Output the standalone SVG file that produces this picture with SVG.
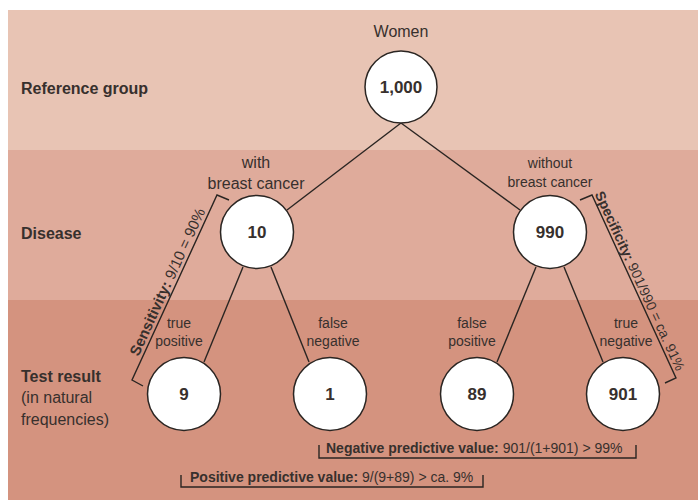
<svg xmlns="http://www.w3.org/2000/svg" width="698" height="504" viewBox="0 0 698 504">
<style>
text{font-family:"Liberation Sans",Arial,sans-serif;fill:#37302d}
.b{font-weight:bold}
.lbl{font-size:16px}
.sm{font-size:14px}
.rot{font-size:15px;text-anchor:middle}
.rot2{font-size:14px;text-anchor:middle}
.num{font-size:17px;font-weight:bold;text-anchor:middle}
.mid{text-anchor:middle}
circle{fill:#fff;stroke:#2a2522;stroke-width:1.5}
.ln{stroke:#2a2522;stroke-width:1.4;fill:none}
</style>
<rect x="0" y="0" width="698" height="504" fill="#fff"/>
<g id="bands">
<rect x="8" y="10" width="690" height="140" fill="#e8c4b4"/>
<rect x="8" y="150" width="690" height="150" fill="#dfab9b"/>
<rect x="8" y="300" width="690" height="200" fill="#d4937f"/>
</g>
<g id="row-labels">
<text class="lbl b" x="21" y="94">Reference group</text>
<text class="lbl b" x="21" y="239">Disease</text>
<text class="lbl b" x="21" y="382">Test result</text>
<text class="lbl" x="21" y="403">(in natural</text>
<text class="lbl" x="21" y="425">frequencies)</text>
</g>
<g id="connectors">
<path class="ln" d="M401,123 L287,210"/>
<path class="ln" d="M401,123 L520,210"/>
<path class="ln" d="M243,267 L204,362"/>
<path class="ln" d="M271,267 L309,362"/>
<path class="ln" d="M536,267 L497,362"/>
<path class="ln" d="M564,267 L603,362"/>
</g>
<g id="n1000">
<text class="lbl mid" x="401" y="37">Women</text>
<circle cx="401" cy="87" r="36"/>
<text class="num" x="401" y="93">1,000</text>
</g>
<g id="n10">
<text class="lbl mid" x="256" y="168">with</text>
<text class="lbl mid" x="256" y="189">breast cancer</text>
<circle cx="257" cy="232" r="36.5"/>
<text class="num" x="257" y="238">10</text>
</g>
<g id="n990">
<text class="sm mid" x="550" y="168">without</text>
<text class="sm mid" x="550" y="187">breast cancer</text>
<circle cx="550" cy="232" r="36.5"/>
<text class="num" x="550" y="238">990</text>
</g>
<g id="n9">
<text class="sm mid" x="179" y="328">true</text>
<text class="sm mid" x="179" y="346">positive</text>
<circle cx="184" cy="394" r="36.5"/>
<text class="num" x="184" y="400">9</text>
</g>
<g id="n1">
<text class="sm mid" x="333" y="328">false</text>
<text class="sm mid" x="333" y="346">negative</text>
<circle cx="330" cy="394" r="36.5"/>
<text class="num" x="330" y="400">1</text>
</g>
<g id="n89">
<text class="sm mid" x="472" y="328">false</text>
<text class="sm mid" x="472" y="346">positive</text>
<circle cx="477" cy="394" r="36.5"/>
<text class="num" x="477" y="400">89</text>
</g>
<g id="n901">
<text class="sm mid" x="626" y="328">true</text>
<text class="sm mid" x="626" y="346">negative</text>
<circle cx="623" cy="394" r="36.5"/>
<text class="num" x="623" y="400">901</text>
</g>
<g id="sensitivity">
<path class="ln" d="M229,200 L217,195 L132,380 L143,386"/>
<text class="rot" transform="translate(172,284) rotate(-65.3)"><tspan class="b">Sensitivity:</tspan> 9/10 = 90%</text>
</g>
<g id="specificity">
<path class="ln" d="M580,200 L592,195 L676,378 L665,383"/>
<text class="rot2" transform="translate(635.5,283) rotate(65.3)"><tspan class="b">Specificity:</tspan> 901/990 = ca. 91%</text>
</g>
<g id="npv">
<path class="ln" d="M319,445 L319,458 L636,458 L636,445"/>
<text class="sm" x="326" y="453"><tspan class="b">Negative predictive value:</tspan> 901/(1+901) &gt; 99%</text>
</g>
<g id="ppv">
<path class="ln" d="M181,475 L181,487 L483,487 L483,475"/>
<text class="sm" x="190" y="482"><tspan class="b">Positive predictive value:</tspan> 9/(9+89) &gt; ca. 9%</text>
</g>
</svg>
